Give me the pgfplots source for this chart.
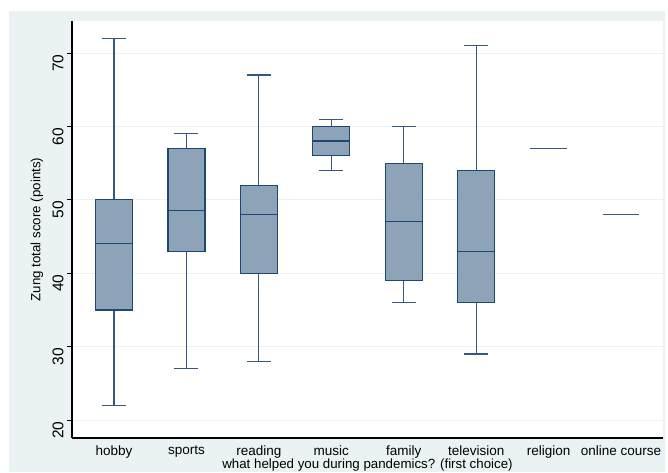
\documentclass[border=0pt]{standalone}
\usepackage{fontspec}
\setmainfont{Liberation Sans}
\usepackage{pgfplots}
\pgfplotsset{compat=1.18}
\definecolor{bgblue}{RGB}{234,242,243}
\definecolor{boxfill}{RGB}{141,163,184}
\definecolor{boxedge}{RGB}{30,72,115}
\definecolor{whisk}{RGB}{52,88,128}
% #1 position, #2 lower whisker, #3 lower quartile, #4 median, #5 upper quartile, #6 upper whisker
\newcommand\boxitem[6]{%
  \pgfmathsetmacro\bxl{#1-0.255}%
  \pgfmathsetmacro\bxr{#1+0.255}%
  \pgfmathsetmacro\capl{#1-0.165}%
  \pgfmathsetmacro\capr{#1+0.165}%
  \edef\doplots{%
    \noexpand\addplot[whisk, line width=1.1pt] coordinates {(#1,#5) (#1,#6)};
    \noexpand\addplot[whisk, line width=1.1pt] coordinates {(#1,#3) (#1,#2)};
    \noexpand\addplot[whisk, line width=1.1pt] coordinates {(\capl,#6) (\capr,#6)};
    \noexpand\addplot[whisk, line width=1.1pt] coordinates {(\capl,#2) (\capr,#2)};
    \noexpand\addplot[fill=boxfill, draw=boxedge, line width=1.2pt] coordinates {(\bxl,#3) (\bxr,#3) (\bxr,#5) (\bxl,#5)} -- cycle;
    \noexpand\addplot[boxedge, line width=1.2pt] coordinates {(\bxl,#4) (\bxr,#4)};
  }\doplots
}
\newcommand\lineitem[2]{%
  \pgfmathsetmacro\bxl{#1-0.255}%
  \pgfmathsetmacro\bxr{#1+0.255}%
  \edef\doplots{%
    \noexpand\addplot[whisk, line width=1.2pt] coordinates {(\bxl,#2) (\bxr,#2)};
  }\doplots
}
\begin{document}
\begin{tikzpicture}
\useasboundingbox (0pt,0pt) rectangle (668pt,472pt);
\fill[white] (0pt,0pt) rectangle (668pt,472pt);
\fill[bgblue] (9pt,0pt) rectangle (665pt,461pt);
\fill[white] (72pt,34pt) rectangle (663pt,451pt);
\begin{axis}[
  at={(72pt,34pt)}, anchor=south west,
  scale only axis, width=591pt, height=417pt,
  xmin=0.42, xmax=8.58, ymin=17.55, ymax=74.36,
  axis x line*=bottom, axis y line*=left,
  axis line style={black, line width=1.2pt, -},
  xtick={1,...,8},
  xticklabels={hobby,sports,reading,music,family,television,religion,online course},
  xtick style={draw=none},
  ytick={20,30,...,70},
  tick align=outside, ytick style={black, line width=0.8pt}, major tick length=5pt,
  ymajorgrids, grid style={bgblue, line width=1pt},
  /pgf/number format/assume math mode=true,
  yticklabel style={rotate=90, anchor=south, xshift=-10pt, font=\fontsize{15.5}{16}\selectfont},
  xticklabel style={font=\fontsize{13.5}{15}\selectfont, yshift=1pt},
  label style={font=\fontsize{13.3}{15}\selectfont},
  ylabel={Zung total score (points)},
  ylabel style={at={(axis description cs:-0.0592,0.5)}, anchor=center},
  xlabel={what helped you during pandemics? (first choice)},
  xlabel style={at={(axis description cs:0.5,0)}, anchor=base, yshift=-30.5pt},
]
\boxitem{1}{22}{35}{44}{50}{72}
\boxitem{2}{27}{43}{48.5}{57}{59}
\boxitem{3}{28}{40}{48}{52}{67}
\boxitem{4}{54}{56}{58}{60}{61}
\boxitem{5}{36}{39}{47}{55}{60}
\boxitem{6}{29}{36}{43}{54}{71}
\lineitem{7}{57}
\lineitem{8}{48}
\end{axis}
\end{tikzpicture}
\end{document}
